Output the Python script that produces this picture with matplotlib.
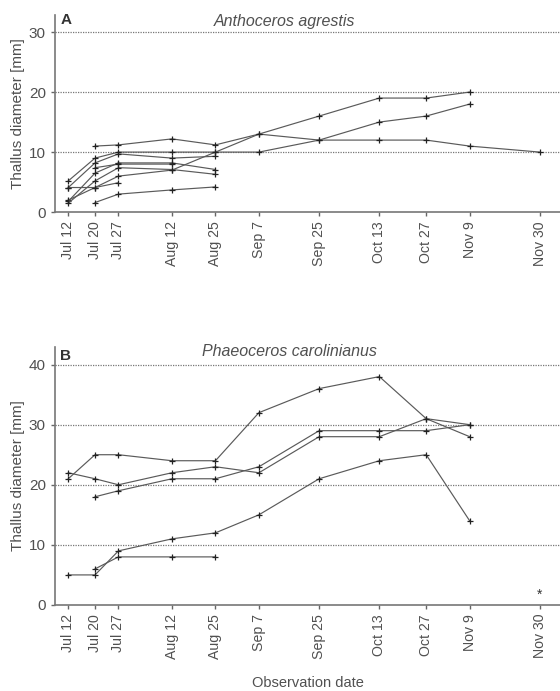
import numpy as np
import pandas as pd
import matplotlib
matplotlib.use("Agg")
import matplotlib.pyplot as plt

plt.rcParams['font.family'] = ['Liberation Sans', 'DejaVu Sans']

# observation dates (year arbitrary, non-leap)
dates = pd.to_datetime(["2009-07-12", "2009-07-20", "2009-07-27", "2009-08-12", "2009-08-25",
                        "2009-09-07", "2009-09-25", "2009-10-13", "2009-10-27", "2009-11-09",
                        "2009-11-30"])
date_labels = ["Jul 12", "Jul 20", "Jul 27", "Aug 12", "Aug 25", "Sep 7", "Sep 25",
               "Oct 13", "Oct 27", "Nov 9", "Nov 30"]
nan = np.nan

# A - Anthoceros agrestis, thallus diameter [mm]
a1 = [nan, 11.0, 11.2, 12.2, 11.2, 13.0, 12.0, 12.0, 12.0, 11.0, 10.0]
a2 = [2.0, 4.1, 6.0, 7.0, 10.0, 13.0, 16.0, 19.0, 19.0, 20.0, nan]
a3 = [5.2, 9.0, 10.0, 10.0, 10.0, 10.0, 12.0, 15.0, 16.0, 18.0, nan]
a4 = [4.1, 8.2, 9.7, 9.0, 9.3, nan, nan, nan, nan, nan, nan]
a5 = [1.8, 6.5, 8.2, 8.2, 7.1, nan, nan, nan, nan, nan, nan]
a6 = [1.5, 5.2, 7.4, 7.1, 6.3, nan, nan, nan, nan, nan, nan]
a7 = [4.1, 4.1, 4.9, nan, nan, nan, nan, nan, nan, nan, nan]
a8 = [nan, 1.6, 3.0, 3.7, 4.2, nan, nan, nan, nan, nan, nan]
a9 = [nan, 7.4, 8.0, 8.0, nan, nan, nan, nan, nan, nan, nan]

# B - Phaeoceros carolinianus
b1 = [21, 25, 25, 24, 24, 32, 36, 38, 31, 28, nan]
b2 = [22, 21, 20, 22, 23, 22, 28, 28, 31, 30, nan]
b3 = [nan, 18, 19, 21, 21, 23, 29, 29, 29, 30, nan]
b4 = [5, 5, 9, 11, 12, 15, 21, 24, 25, 14, nan]
b5 = [nan, 6, 8, 8, 8, nan, nan, nan, nan, nan, nan]
b_star = 1.7  # "*" at Nov 30

seriesA = [a1, a2, a3, a4, a5, a6, a7, a8, a9]
seriesB = [b1, b2, b3, b4, b5]

fig = plt.figure(figsize=(5.6, 6.91), dpi=100)
axA = fig.add_axes([0.098, 0.693, 0.902, 0.285])
axB = fig.add_axes([0.098, 0.1245, 0.902, 0.374])

txt = '#505050'
for ax, series, ymax, yt, letter in [(axA, seriesA, 32.8, [0, 10, 20, 30], "A"),
                                     (axB, seriesB, 43, [0, 10, 20, 30, 40], "B")]:
    for s in series:
        ax.plot(dates, s, color='#5a5a5a', lw=0.85, marker='+', ms=4.5, mew=0.9, mec='#222222')
    for g in yt[1:]:
        ax.axhline(g, color='#777777', lw=0.9, ls=(0, (1, 1)), zorder=0)
    ax.set_ylim(0, ymax)
    ax.set_xlim(pd.Timestamp("2009-07-08"), pd.Timestamp("2009-12-06"))
    ax.set_yticks(yt)
    ax.set_xticks(dates)
    ax.set_xticklabels(date_labels, rotation=90)
    ax.tick_params(colors='#666666', labelcolor=txt, labelsize=11, length=3, width=1)
    ax.tick_params(axis='x', labelsize=10.2, pad=3.5)
    for sp in ['top', 'right']:
        ax.spines[sp].set_visible(False)
    for sp in ['left', 'bottom']:
        ax.spines[sp].set_color('#777777')
        ax.spines[sp].set_linewidth(1.2)
    ax.set_ylabel("Thallus diameter [mm]", fontsize=11, color=txt)
    ax.yaxis.set_label_coords(-0.06, 0.5)
    ax.text(0.022, 0.975 if letter == "A" else 0.965, letter, transform=ax.transAxes,
            fontsize=11, fontweight='bold', color='#333333', ha='center', va='center')

axA.text(0.455, 0.97, "Anthoceros agrestis", transform=axA.transAxes, style='italic',
         fontsize=11.5, color=txt, ha='center', va='center')
axB.text(0.465, 0.98, "Phaeoceros carolinianus", transform=axB.transAxes, style='italic',
         fontsize=11.5, color=txt, ha='center', va='center')
axB.text(dates[-1], b_star, "*", fontsize=10, color='#333333', ha='center', va='center')

fig.text(0.549, 1 - 683 / 691, "Observation date", fontsize=10.5, color=txt,
         ha='center', va='center')

fig.savefig("out.png", dpi=100)
